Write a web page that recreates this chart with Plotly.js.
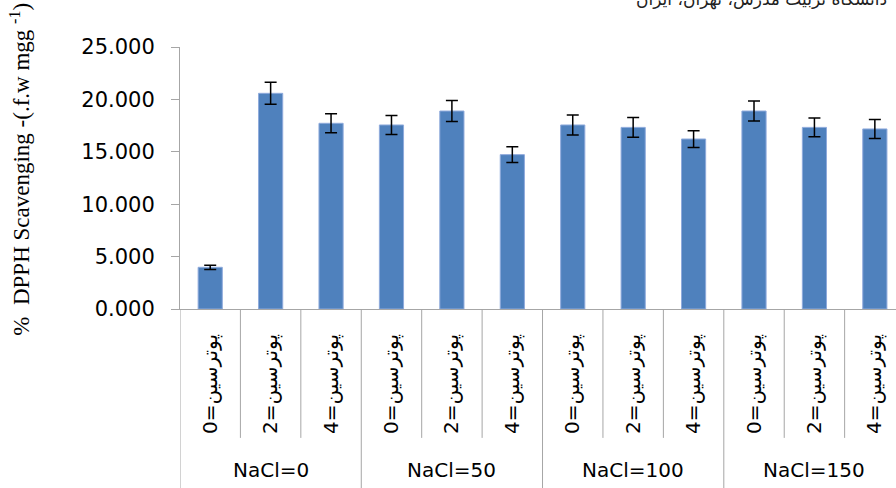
<!DOCTYPE html>
<html>
<head>
<meta charset="utf-8">
<script src="https://cdn.plot.ly/plotly-3.0.1.min.js"></script>
<style>html,body{margin:0;padding:0;background:#fff;}#chart{width:896px;height:488px;}</style>
</head>
<body>
<div id="chart"></div>
<script>
var groupNames = ["NaCl=0", "NaCl=50", "NaCl=100", "NaCl=150"];
var groups = ["NaCl=0","NaCl=0","NaCl=0","NaCl=50","NaCl=50","NaCl=50","NaCl=100","NaCl=100","NaCl=100","NaCl=150","NaCl=150","NaCl=150"];
var subLabels = ["پوترسین=0","پوترسین=2","پوترسین=4","پوترسین=0","پوترسین=2","پوترسین=4","پوترسین=0","پوترسین=2","پوترسین=4","پوترسین=0","پوترسین=2","پوترسین=4"];
var values = [3.98, 20.58, 17.72, 17.56, 18.89, 14.73, 17.56, 17.33, 16.22, 18.89, 17.33, 17.18];
var errors = [0.2, 1.05, 0.9, 0.9, 1.0, 0.75, 0.95, 0.95, 0.8, 0.95, 0.9, 0.9];
var yTicks = [0, 5, 10, 15, 20, 25];
var yTitle = "%  DPPH Scavenging -(.f.w mgg <sup>-1</sup>)";
var watermark = "دانشگاه تربیت مدرس، تهران، ایران";

var axisGray = "#A6A6A6";
var n = values.length;
var xIdx = subLabels.map(function (_, i) { return i; });

var shapes = [];
for (var i = 0; i <= n; i++) {
  var isGroupEdge = (i === 0) || (i === n) || (groups[i] !== groups[i - 1]);
  shapes.push({type: "line", xref: "x", yref: "paper", x0: i - 0.5, x1: i - 0.5, y0: 0,
    y1: isGroupEdge ? -0.69 : -0.492, line: {color: axisGray, width: 1}});
}

var annotations = [
  {text: yTitle, xref: "paper", yref: "paper", x: -0.224, y: 0.534, xanchor: "center", yanchor: "middle",
   textangle: -90, showarrow: false, font: {family: "Liberation Serif", size: 23, color: "#000"}},
  {text: watermark, xref: "paper", yref: "paper", x: 0.99, y: 1.183, xanchor: "right", yanchor: "middle",
   showarrow: false, font: {family: "DejaVu Sans", size: 17, color: "#222"}}
];
groupNames.forEach(function (g) {
  var idx = [];
  groups.forEach(function (gg, k) { if (gg === g) idx.push(k); });
  var center = (idx[0] + idx[idx.length - 1]) / 2;
  annotations.push({text: g, xref: "x", yref: "paper", x: center, y: -0.6145, xanchor: "center", yanchor: "middle",
    showarrow: false, font: {family: "DejaVu Sans", size: 20, color: "#000"}});
});

var trace = {
  type: "bar",
  x: xIdx,
  y: values,
  marker: {color: "#4F81BD", line: {color: "#8FAADC", width: 1}},
  error_y: {type: "data", array: errors, visible: true, color: "#000000", thickness: 1.5, width: 6},
  width: 0.4
};

var layout = {
  width: 896, height: 488,
  margin: {l: 180, r: 0, t: 47, b: 179, pad: 0},
  paper_bgcolor: "#ffffff", plot_bgcolor: "#ffffff",
  showlegend: false,
  font: {family: "DejaVu Sans", color: "#000000"},
  xaxis: {
    range: [-0.5, 11.35],
    tickmode: "array", tickvals: xIdx, ticktext: subLabels,
    showline: true, linecolor: axisGray, linewidth: 1,
    showgrid: false, zeroline: false,
    ticks: "outside", ticklen: 16, tickcolor: "rgba(0,0,0,0)",
    tickangle: -90,
    tickfont: {family: "DejaVu Sans", size: 20, color: "#000"}
  },
  yaxis: {
    range: [0, 25],
    tickvals: yTicks,
    tickformat: ".3f",
    showline: true, linecolor: axisGray, linewidth: 1,
    showgrid: false, zeroline: false,
    ticks: "outside", ticklen: 8, tickcolor: axisGray,
    ticklabelstandoff: 12,
    tickfont: {family: "DejaVu Sans", size: 21, color: "#000"}
  },
  shapes: shapes,
  annotations: annotations
};

Plotly.newPlot("chart", [trace], layout, {displayModeBar: false, staticPlot: true});
</script>
</body>
</html>
